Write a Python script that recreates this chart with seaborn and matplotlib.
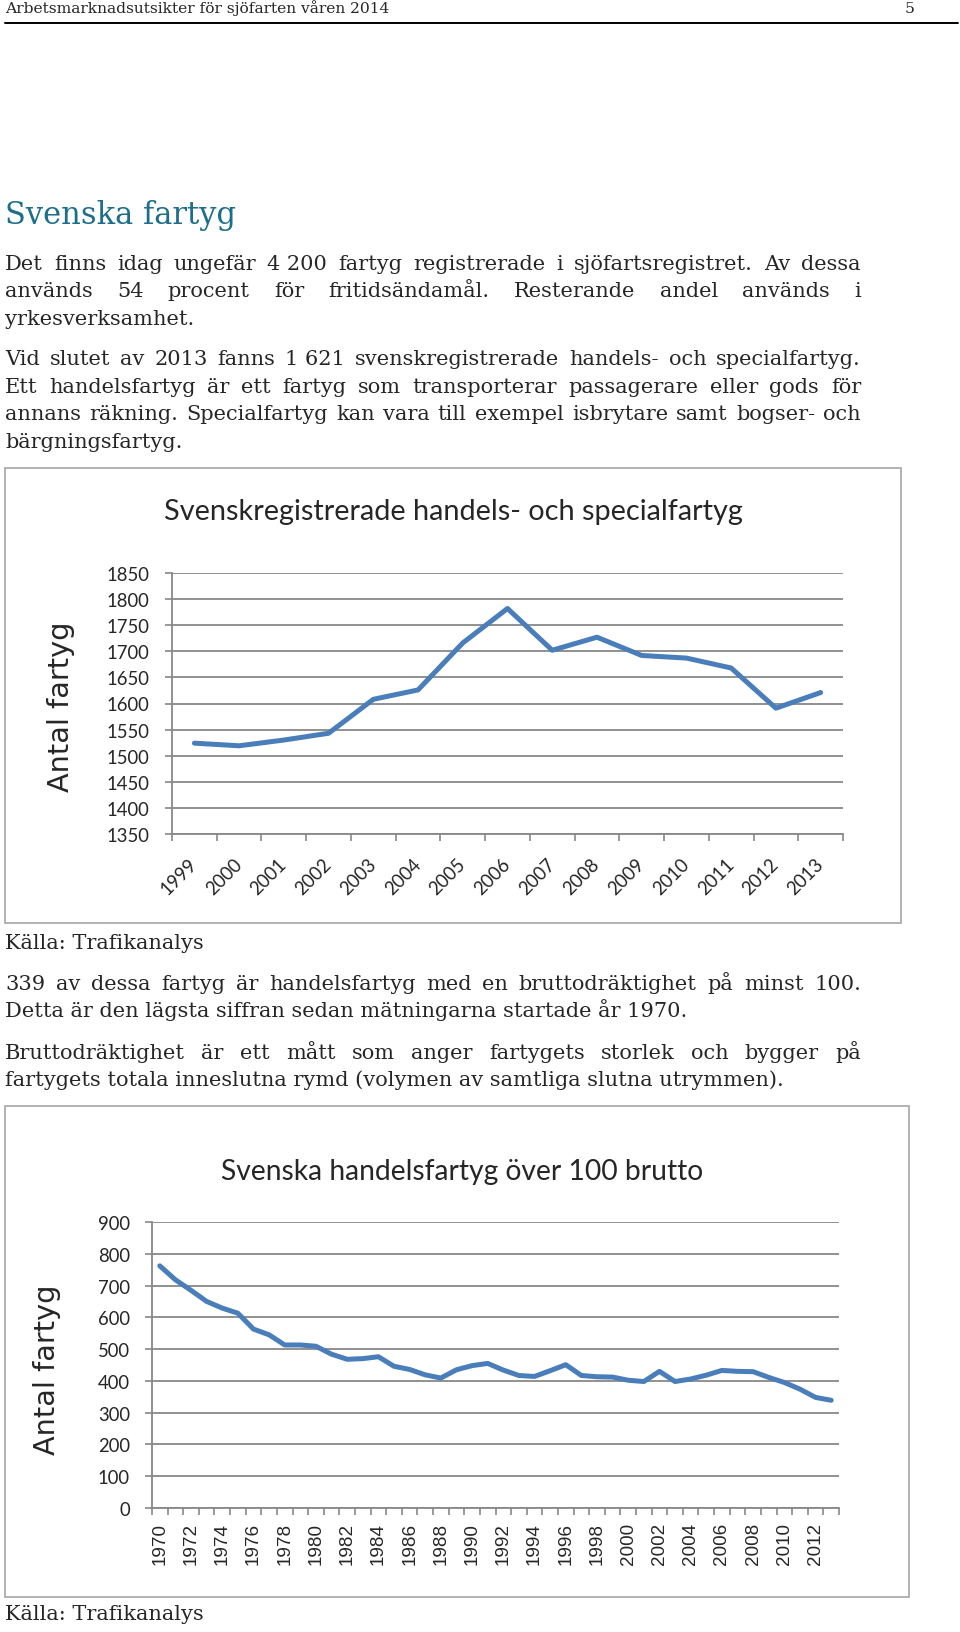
import numpy as np
import pandas as pd
import matplotlib
matplotlib.use("Agg")
import matplotlib.pyplot as plt
import seaborn as sns
from matplotlib.patches import Rectangle
from matplotlib.lines import Line2D

# ---------------- data ----------------
years1 = [str(y) for y in range(1999, 2014)]
antal1 = [1524, 1519, 1530, 1543, 1608, 1626, 1716, 1782, 1702, 1727,
          1692, 1687, 1668, 1591, 1621]

years2 = [str(y) for y in range(1970, 2014)]
antal2 = [762, 718, 685, 650, 629, 613, 563, 545, 513, 513,
          509, 484, 468, 470, 476, 446, 436, 419, 409, 435,
          448, 455, 434, 417, 414, 432, 451, 417, 413, 412,
          402, 398, 430, 398, 406, 418, 433, 430, 429, 411,
          395, 374, 348, 339]

yticks1 = list(range(1350, 1851, 50))
yticks2 = list(range(0, 901, 100))

title1 = "Svenskregistrerade handels- och specialfartyg"
title2 = "Svenska handelsfartyg över 100 brutto"
ylabel = "Antal fartyg"
source = "Källa: Trafikanalys"
header = "Arbetsmarknadsutsikter för sjöfarten våren 2014"
pagenum = "5"
heading = "Svenska fartyg"

# (text, justified?)
para_top = [
    ("Det finns idag ungefär 4\u00a0200 fartyg registrerade i sjöfartsregistret. Av dessa", True),
    ("används 54 procent för fritidsändamål. Resterande andel används i", True),
    ("yrkesverksamhet.", False),
    ("Vid slutet av 2013 fanns 1\u00a0621 svenskregistrerade handels- och specialfartyg.", True),
    ("Ett handelsfartyg är ett fartyg som transporterar passagerare eller gods för", True),
    ("annans räkning. Specialfartyg kan vara till exempel isbrytare samt bogser- och", True),
    ("bärgningsfartyg.", False),
]
para_mid = [
    ("339 av dessa fartyg är handelsfartyg med en bruttodräktighet på minst 100.", True),
    ("Detta är den lägsta siffran sedan mätningarna startade år 1970.", False),
    ("Bruttodräktighet är ett mått som anger fartygets storlek och bygger på", True),
    ("fartygets totala inneslutna rymd (volymen av samtliga slutna utrymmen).", False),
]

# ---------------- styling ----------------
sns.set_theme(style="white")
plt.rcParams["font.family"] = ["DejaVu Serif"]

W, H = 960, 1633
fig = plt.figure(figsize=(W / 100, H / 100), dpi=100)
fig.patch.set_facecolor("white")
renderer = fig.canvas.get_renderer()

LINE = "#4A7EBB"
GRID = "#888888"
BOX = "#A6A6A6"
TEAL = "#1D6E8A"
SERIF = "DejaVu Serif"
CHART = "Lato"
ARIAL = "Liberation Sans"


def fx(x):
    return x / W


def fy(y):
    return 1 - y / H


def measure(s, size, family):
    t = fig.text(0, 0, s, fontsize=size, family=family)
    w = t.get_window_extent(renderer=renderer).width
    t.remove()
    return w


def fit(s, family, target):
    return 20 * target / measure(s, 20, family)


def put(x, y, s, size, family, **kw):
    return fig.text(fx(x), fy(y), s, fontsize=size, family=family, **kw)


def paragraph(lines, baselines, size, x0=5, x1=861):
    for (line, just), yb in zip(lines, baselines):
        if not just:
            put(x0, yb, line, size, SERIF, va="baseline", ha="left")
            continue
        words = line.split(" ")
        widths = [measure(w, size, SERIF) for w in words]
        gap = (x1 - x0 - sum(widths)) / (len(words) - 1)
        x = x0
        for w, wd in zip(words, widths):
            put(x, yb, w, size, SERIF, va="baseline", ha="left")
            x += wd + gap


# ---------------- page text ----------------
hdr_size = fit(header, SERIF, 386)
put(5, 13, header, hdr_size, SERIF, va="baseline")
put(915, 13, pagenum, hdr_size, SERIF, va="baseline", ha="right")
fig.add_artist(Line2D([fx(5), fx(958)], [fy(24), fy(24)], color="black", lw=1.4))

put(5, 224, heading, fit(heading, SERIF, 231), SERIF, va="baseline", color=TEAL)

body = fit("Detta är den lägsta siffran sedan mätningarna startade år 1970.", SERIF, 682)
paragraph(para_top, [269.5, 297, 325, 365.5, 393, 420.5, 448], body)
put(5, 949, source, body, SERIF, va="baseline")
paragraph(para_mid, [990, 1017, 1059, 1086.5], body)
put(5, 1620, source, body, SERIF, va="baseline")

# chart boxes
for (x0, y0, x1, y1) in [(5, 469, 901, 924), (5, 1107, 909, 1598)]:
    fig.add_artist(Rectangle((fx(x0), fy(y1)), fx(x1) - fx(x0), fy(y0) - fy(y1),
                             fill=False, edgecolor=BOX, lw=1.2))

# ---------------- chart 1 ----------------
tick_size1 = fit("1850", CHART, 43)
ax1 = fig.add_axes([fx(172), fy(835), (843 - 172) / W, (835 - 574) / H])
df1 = pd.DataFrame({"pos": np.arange(len(years1)), "antal": antal1})
sns.lineplot(data=df1, x="pos", y="antal", ax=ax1, color=LINE, linewidth=3.6,
             solid_joinstyle="round", solid_capstyle="round")
ax1.set_xlim(-0.5, len(years1) - 0.5)
ax1.set_ylim(yticks1[0], yticks1[-1])
ax1.set_yticks(yticks1)
ax1.set_yticklabels([str(v) for v in yticks1], fontsize=tick_size1, family=CHART)
ax1.set_xticks(np.arange(len(years1)))
ax1.set_xticklabels(years1, rotation=45, ha="right", va="center",
                    rotation_mode="anchor", fontsize=tick_size1, family=CHART)
ax1.set_xticks(np.arange(-0.5, len(years1)), minor=True)
ax1.tick_params(axis="x", which="major", length=0, pad=19.5)
ax1.tick_params(axis="x", which="minor", length=5, width=1.2, color=GRID, bottom=True)
ax1.tick_params(axis="y", length=5, width=1.2, color=GRID, pad=11, left=True)
ax1.yaxis.grid(True, color=GRID, lw=1.3)
ax1.xaxis.grid(False)
ax1.set_xlabel("")
ax1.set_ylabel("")
for s in ["top", "right"]:
    ax1.spines[s].set_visible(False)
for s in ["left", "bottom"]:
    ax1.spines[s].set_color(GRID)
    ax1.spines[s].set_linewidth(1.3)

put(453, 520, title1, fit(title1, CHART, 580), CHART, va="baseline", ha="center")
lab_size = fit(ylabel, "DejaVu Sans", 170)
put(61.5, 707, ylabel, lab_size, "DejaVu Sans", va="center", ha="center", rotation=90)

# ---------------- chart 2 ----------------
tick_size2x = fit("1970", ARIAL, 42)
ax2 = fig.add_axes([fx(152), fy(1509), (839 - 152) / W, (1509 - 1223) / H])
df2 = pd.DataFrame({"pos": np.arange(len(years2)), "antal": antal2})
sns.lineplot(data=df2, x="pos", y="antal", ax=ax2, color=LINE, linewidth=3.6,
             solid_joinstyle="round", solid_capstyle="round")
ax2.set_xlim(-0.5, len(years2) - 0.5)
ax2.set_ylim(yticks2[0], yticks2[-1])
ax2.set_yticks(yticks2)
ax2.set_yticklabels([str(v) for v in yticks2], fontsize=tick_size1, family=CHART)
major = np.arange(0, len(years2), 2)
ax2.set_xticks(major)
ax2.set_xticklabels([years2[i] for i in major], rotation=90, ha="center", va="top",
                    fontsize=tick_size2x, family=ARIAL)
ax2.set_xticks(np.arange(-0.5, len(years2)), minor=True)
ax2.tick_params(axis="x", which="major", length=0, pad=10)
ax2.tick_params(axis="x", which="minor", length=5, width=1.2, color=GRID, bottom=True)
ax2.tick_params(axis="y", length=5, width=1.2, color=GRID, pad=11, left=True)
ax2.yaxis.grid(True, color=GRID, lw=1.3)
ax2.xaxis.grid(False)
ax2.set_xlabel("")
ax2.set_ylabel("")
for s in ["top", "right"]:
    ax2.spines[s].set_visible(False)
for s in ["left", "bottom"]:
    ax2.spines[s].set_color(GRID)
    ax2.spines[s].set_linewidth(1.3)

put(462, 1180.5, title2, fit(title2, CHART, 484), CHART, va="baseline", ha="center")
put(47.5, 1370, ylabel, lab_size, "DejaVu Sans", va="center", ha="center", rotation=90)

fig.savefig("out.png", dpi=100, facecolor="white")
